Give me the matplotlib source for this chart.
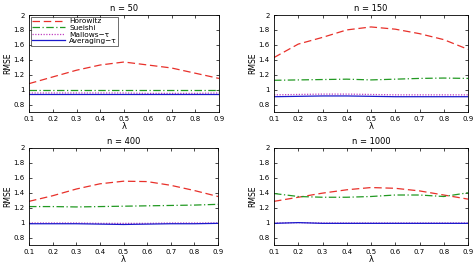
import numpy as np
import matplotlib
matplotlib.use('Agg')
import matplotlib.pyplot as plt

# lambda grid
lam = [0.1, 0.2, 0.3, 0.4, 0.5, 0.6, 0.7, 0.8, 0.9]

# RMSE
horowitz_50 = [1.08, 1.17, 1.26, 1.33, 1.37, 1.33, 1.29, 1.22, 1.15]
sueishi_50 = [1.00, 1.00, 1.00, 1.00, 1.00, 1.00, 1.00, 1.00, 1.00]
mallows_50 = [0.955, 0.955, 0.955, 0.955, 0.955, 0.95, 0.95, 0.95, 0.955]
averaging_50 = [0.945, 0.945, 0.945, 0.945, 0.945, 0.945, 0.945, 0.945, 0.945]

horowitz_150 = [1.43, 1.61, 1.70, 1.80, 1.84, 1.81, 1.75, 1.67, 1.54]
sueishi_150 = [1.125, 1.13, 1.135, 1.14, 1.13, 1.14, 1.15, 1.155, 1.15]
mallows_150 = [0.93, 0.935, 0.94, 0.94, 0.935, 0.93, 0.93, 0.93, 0.93]
averaging_150 = [0.905, 0.91, 0.915, 0.915, 0.91, 0.905, 0.905, 0.905, 0.905]

horowitz_400 = [1.285, 1.36, 1.45, 1.52, 1.555, 1.55, 1.50, 1.43, 1.35]
sueishi_400 = [1.215, 1.215, 1.21, 1.215, 1.22, 1.225, 1.23, 1.235, 1.245]
mallows_400 = [0.995, 0.995, 0.995, 0.99, 0.99, 0.99, 0.995, 0.995, 0.995]
averaging_400 = [0.985, 0.985, 0.985, 0.98, 0.975, 0.98, 0.985, 0.985, 0.99]

horowitz_1000 = [1.285, 1.34, 1.395, 1.44, 1.47, 1.46, 1.425, 1.37, 1.315]
sueishi_1000 = [1.39, 1.35, 1.34, 1.34, 1.35, 1.37, 1.37, 1.35, 1.40]
mallows_1000 = [0.995, 1.0, 0.995, 0.995, 0.995, 0.995, 0.995, 0.995, 0.995]
averaging_1000 = [0.99, 1.0, 0.99, 0.99, 0.99, 0.99, 0.99, 0.99, 0.99]

panels = [
    ('n = 50', horowitz_50, sueishi_50, mallows_50, averaging_50),
    ('n = 150', horowitz_150, sueishi_150, mallows_150, averaging_150),
    ('n = 400', horowitz_400, sueishi_400, mallows_400, averaging_400),
    ('n = 1000', horowitz_1000, sueishi_1000, mallows_1000, averaging_1000),
]

W, H = 474, 264
# axes boxes in pixels: left, top, right, bottom
boxes = [(29, 15, 219, 112), (274, 15, 468, 112),
         (29, 148, 218, 245), (274, 148, 468, 245)]

fig = plt.figure(figsize=(W / 100, H / 100), dpi=100)
plt.rcParams['font.family'] = 'DejaVu Sans'

for (title, hor, sue, mal, avg), (l, t, r, b) in zip(panels, boxes):
    ax = fig.add_axes([l / W, 1 - b / H, (r - l) / W, (b - t) / H])
    ax.plot(lam, hor, color='#e8302a', ls=(0, (6, 3)), lw=0.9, label='Horowitz')
    ax.plot(lam, sue, color='#229922', ls=(0, (6, 2, 1, 2)), lw=0.9, label='Sueishi')
    ax.plot(lam, mal, color='#c040c0', ls=(0, (1, 1.2)), lw=0.9, label='Mallows\u2212\u03c4')
    ax.plot(lam, avg, color='#1a1acc', ls='-', lw=0.9, label='Averaging\u2212\u03c4')
    ax.set_xlim(0.1, 0.9)
    ax.set_ylim(0.7, 2.0)
    ax.set_xticks(np.arange(0.1, 0.91, 0.1))
    ax.set_xticklabels(['0.1', '0.2', '0.3', '0.4', '0.5', '0.6', '0.7', '0.8', '0.9'])
    ax.set_yticks([0.8, 1.0, 1.2, 1.4, 1.6, 1.8, 2.0])
    ax.set_yticklabels(['0.8', '1', '1.2', '1.4', '1.6', '1.8', '2'])
    ax.tick_params(direction='in', length=2, width=0.5, labelsize=5, pad=3,
                   top=True, right=True)
    for s in ax.spines.values():
        s.set_linewidth(0.6)
    ax.set_title(title, fontsize=6, pad=3)
    ax.set_xlabel('\u03bb', fontsize=6, labelpad=0)
    ax.set_ylabel('RMSE', fontsize=5.5, labelpad=1)
    if title == 'n = 50':
        leg = ax.legend(loc='upper left', fontsize=5.3, frameon=True, fancybox=False,
                        borderpad=0.2, labelspacing=0.05, handlelength=4.5,
                        handletextpad=0.5, borderaxespad=0.25)
        leg.get_frame().set_edgecolor('black')
        leg.get_frame().set_linewidth(0.5)

fig.savefig('out.png', dpi=100)
